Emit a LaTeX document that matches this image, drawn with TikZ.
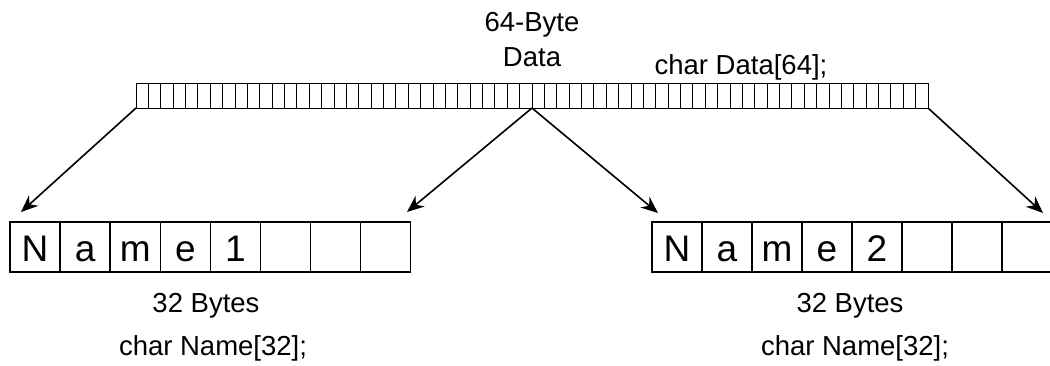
\documentclass[tikz,border=0pt]{standalone}
\usepackage{fontspec}
\setmainfont{Liberation Sans}
\usetikzlibrary{arrows.meta,positioning,calc}
\tikzset{>=Stealth}
\tikzset{
  bytecell/.style={draw, line width=1pt, minimum width=12.375pt, minimum height=25pt, inner sep=0pt, outer sep=0pt},
  namecell/.style={draw, line width=1.4pt, minimum width=50pt, minimum height=50pt, inner sep=0pt, outer sep=0pt,
    text height=28pt, text depth=0pt, font=\fontsize{37}{37}\selectfont},
  note/.style={anchor=base, inner sep=0pt, font=\fontsize{27.5}{30}\selectfont},
  ptr/.style={->, line width=1.6pt, >={Stealth[length=17pt,width=14pt]}}
}

\begin{document}
\begin{tikzpicture}[x=1pt,y=-1pt]
  \useasboundingbox (0,0) rectangle (1050,365);
  % 64 byte buffer
  \foreach \i in {1,...,64}{
    \node[bytecell] (d\i) at ({136+(\i-0.5)*12.375},95.5) {};
  }
  \node[note] (head1) at (532,31) {64-Byte};
  \node[note] (head2) at (532,66) {Data};
  \node[note] (decl) at (741,74) {char Data[64];};

  % the two 32 byte names
  \foreach \t [count=\i] in {N,a,m,e,1,{},{},{}}{
    \node[namecell] (a\i) at ({10+(\i-0.5)*50.1},247) {\t};
  }
  \foreach \t [count=\i] in {N,a,m,e,2,{},{},{}}{
    \node[namecell] (b\i) at ({652+(\i-0.5)*50},247) {\t};
  }
  \node[note] (sizeA) at (206,312) {32 Bytes};
  \node[note] (declA) at (213,355) {char Name[32];};
  \node[note] (sizeB) at (850,312) {32 Bytes};
  \node[note] (declB) at (855,355) {char Name[32];};

  % arrows
  \coordinate (tipA1) at (21,212);
  \coordinate (tipA2) at (407,212);
  \coordinate (tipB1) at (658,213);
  \coordinate (tipB2) at (1043,213);
  \draw[ptr] (d1.south west) -- (tipA1);
  \draw[ptr] (d32.south east) -- (tipA2);
  \draw[ptr] (d32.south east) -- (tipB1);
  \draw[ptr] (d64.south east) -- (tipB2);
\end{tikzpicture}
\end{document}
